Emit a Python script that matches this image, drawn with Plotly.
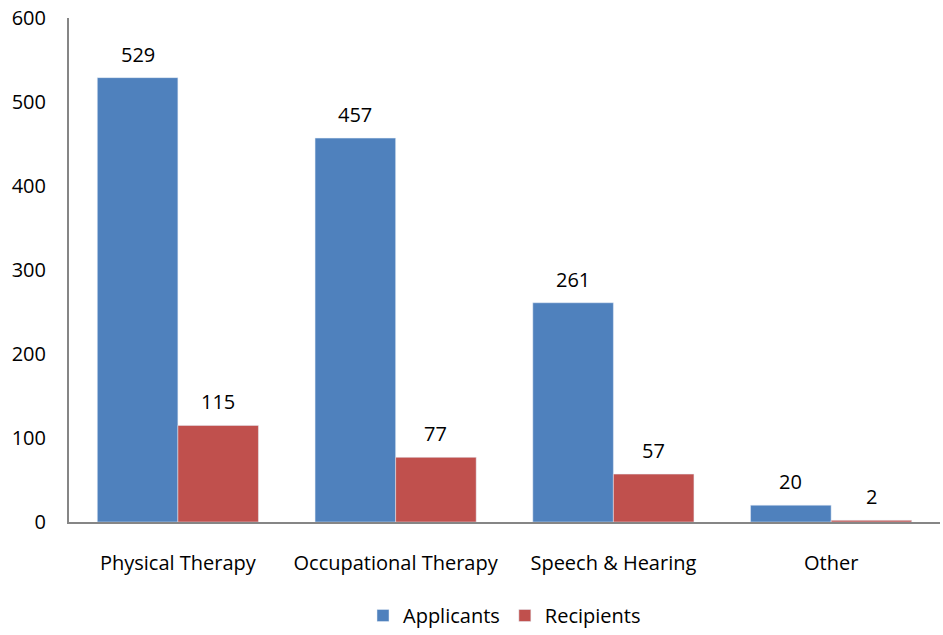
import plotly.graph_objects as go

categories = ["Physical Therapy", "Occupational Therapy", "Speech & Hearing", "Other"]
applicants = [529, 457, 261, 20]
recipients = [115, 77, 57, 2]

font_family = "Open Sans, sans-serif"
bargap = 0.26

W, H = 943, 635
ML, MR, MT, MB = 69, 3, 18, 113

fig = go.Figure()
fig.add_trace(go.Bar(name="Applicants", x=categories, y=applicants, marker_color="#4F81BD"))
fig.add_trace(go.Bar(name="Recipients", x=categories, y=recipients, marker_color="#C0504D"))

plot_w = W - ML - MR
cat_w = plot_w / len(categories)
bar_w = cat_w * (1 - bargap) / 2
annotations = []
for series, shift in ((applicants, -bar_w / 2), (recipients, bar_w / 2)):
    for c, v in zip(categories, series):
        annotations.append(dict(x=c, y=v, xref="x", yref="y", text=str(v), showarrow=False,
                                yanchor="bottom", xshift=shift, yshift=8,
                                font=dict(size=20, color="black")))

fig.update_layout(
    width=W, height=H,
    margin=dict(l=ML, r=MR, t=MT, b=MB, autoexpand=False),
    barmode="group", bargap=bargap, bargroupgap=0,
    plot_bgcolor="white", paper_bgcolor="white",
    font=dict(family=font_family, size=20, color="black"),
    showlegend=True,
    legend=dict(orientation="h", x=0.5, xanchor="center", y=-MB / (H - MT - MB), yanchor="bottom",
                font=dict(size=20), itemwidth=30, tracegroupgap=0),
    annotations=annotations,
)
fig.update_xaxes(showline=True, linecolor="#868686", linewidth=2, showgrid=False,
                 ticks="outside", ticklen=22, tickcolor="rgba(0,0,0,0)",
                 tickfont=dict(size=20), automargin=False)
fig.update_yaxes(range=[0, 600], dtick=100, showline=True, linecolor="#868686", linewidth=2,
                 showgrid=False, zeroline=False, ticks="outside", ticklen=17,
                 tickcolor="rgba(0,0,0,0)", tickfont=dict(size=20), automargin=False,
                 ticklabeloverflow="allow")

fig.write_html("out.html", config={"displayModeBar": False},
               post_script="document.body.style.margin='0';document.body.style.overflow='hidden';")
